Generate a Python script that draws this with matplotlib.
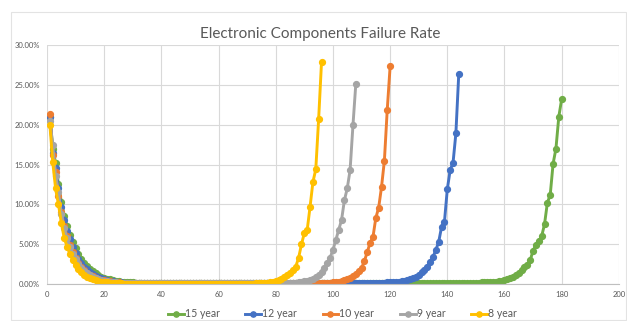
import numpy as np
import matplotlib
matplotlib.use("Agg")
import matplotlib.pyplot as plt
from matplotlib.ticker import FuncFormatter, MultipleLocator
from matplotlib.patches import Rectangle

# ─────────────────────────────────────────────
# Data: monthly failure rate (%) per product lifetime
# ─────────────────────────────────────────────

labels = ["15 year", "12 year", "10 year", "9 year", "8 year"]
colors = ["#70AD47", "#4472C4", "#ED7D31", "#A5A5A5", "#FFC000"]

rate_15y = [
    21.0, 17.0, 15.2, 12.5, 10.3, 8.6, 7.3, 6.2, 5.3, 4.5,
    3.8, 3.2, 2.7, 2.3, 1.9, 1.6, 1.35, 1.1, 0.95, 0.8,
    0.68, 0.58, 0.5, 0.43, 0.37, 0.32, 0.28, 0.25, 0.22, 0.2,
    0.19, 0.19, 0.18, 0.18, 0.18, 0.18, 0.18, 0.18, 0.18, 0.18,
    0.18, 0.18, 0.18, 0.18, 0.18, 0.18, 0.18, 0.18, 0.18, 0.18,
    0.18, 0.18, 0.18, 0.18, 0.18, 0.18, 0.18, 0.18, 0.18, 0.18,
    0.18, 0.18, 0.18, 0.18, 0.18, 0.18, 0.18, 0.18, 0.18, 0.18,
    0.18, 0.18, 0.18, 0.18, 0.18, 0.18, 0.18, 0.18, 0.18, 0.18,
    0.18, 0.18, 0.18, 0.18, 0.18, 0.18, 0.18, 0.18, 0.18, 0.18,
    0.18, 0.18, 0.18, 0.18, 0.18, 0.18, 0.18, 0.18, 0.18, 0.18,
    0.18, 0.18, 0.18, 0.18, 0.18, 0.18, 0.18, 0.18, 0.18, 0.18,
    0.18, 0.18, 0.18, 0.18, 0.18, 0.18, 0.18, 0.18, 0.18, 0.18,
    0.18, 0.18, 0.18, 0.18, 0.18, 0.18, 0.18, 0.18, 0.18, 0.18,
    0.18, 0.18, 0.18, 0.18, 0.18, 0.18, 0.18, 0.18, 0.18, 0.18,
    0.18, 0.18, 0.18, 0.18, 0.18, 0.18, 0.18, 0.18, 0.18, 0.18,
    0.19, 0.2, 0.21, 0.23, 0.25, 0.27, 0.3, 0.35, 0.42, 0.5,
    0.6, 0.75, 0.9, 1.1, 1.4, 1.75, 2.2, 2.4, 3.0, 4.2,
    4.9, 5.4, 6.0, 7.5, 10.2, 11.2, 15.1, 17.0, 21.0, 23.2,
]

rate_12y = [
    21.0, 16.5, 14.5, 12.0, 9.7, 8.0, 6.7, 5.6, 4.7, 3.9,
    3.2, 2.7, 2.2, 1.85, 1.5, 1.25, 1.05, 0.87, 0.72, 0.6,
    0.5, 0.42, 0.36, 0.3, 0.26, 0.22, 0.19, 0.17, 0.15, 0.14,
    0.13, 0.13, 0.13, 0.13, 0.13, 0.13, 0.13, 0.13, 0.13, 0.13,
    0.13, 0.13, 0.13, 0.13, 0.13, 0.13, 0.13, 0.13, 0.13, 0.13,
    0.13, 0.13, 0.13, 0.13, 0.13, 0.13, 0.13, 0.13, 0.13, 0.13,
    0.13, 0.13, 0.13, 0.13, 0.13, 0.13, 0.13, 0.13, 0.13, 0.13,
    0.13, 0.13, 0.13, 0.13, 0.13, 0.13, 0.13, 0.13, 0.13, 0.13,
    0.13, 0.13, 0.13, 0.13, 0.13, 0.13, 0.13, 0.13, 0.13, 0.13,
    0.13, 0.13, 0.13, 0.13, 0.13, 0.13, 0.13, 0.13, 0.13, 0.13,
    0.13, 0.13, 0.13, 0.13, 0.13, 0.13, 0.13, 0.13, 0.13, 0.13,
    0.13, 0.13, 0.14, 0.14, 0.15, 0.16, 0.17, 0.18, 0.2, 0.22,
    0.25, 0.28, 0.32, 0.37, 0.43, 0.5, 0.6, 0.75, 0.95, 1.2,
    1.5, 1.8, 2.2, 2.8, 3.4, 4.3, 5.3, 7.2, 7.8, 11.9,
    14.3, 15.2, 18.9, 26.3,
]

rate_10y = [
    21.3, 16.2, 14.0, 11.0, 9.0, 7.3, 6.0, 4.9, 4.0, 3.3,
    2.7, 2.2, 1.8, 1.45, 1.2, 1.0, 0.82, 0.68, 0.56, 0.47,
    0.39, 0.33, 0.28, 0.24, 0.2, 0.17, 0.15, 0.13, 0.12, 0.11,
    0.1, 0.1, 0.1, 0.1, 0.1, 0.1, 0.1, 0.1, 0.1, 0.1,
    0.1, 0.1, 0.1, 0.1, 0.1, 0.1, 0.1, 0.1, 0.1, 0.1,
    0.1, 0.1, 0.1, 0.1, 0.1, 0.1, 0.1, 0.1, 0.1, 0.1,
    0.1, 0.1, 0.1, 0.1, 0.1, 0.1, 0.1, 0.1, 0.1, 0.1,
    0.1, 0.1, 0.1, 0.1, 0.1, 0.1, 0.1, 0.1, 0.1, 0.1,
    0.1, 0.1, 0.1, 0.1, 0.1, 0.1, 0.1, 0.1, 0.1, 0.1,
    0.1, 0.1, 0.11, 0.12, 0.13, 0.14, 0.15, 0.17, 0.19, 0.21,
    0.26, 0.32, 0.4, 0.5, 0.62, 0.8, 1.0, 1.25, 1.6, 2.0,
    2.9, 4.0, 5.2, 5.9, 8.3, 9.6, 12.2, 15.5, 21.9, 27.3,
]

rate_9y = [
    20.5, 17.5, 13.5, 11.5, 8.8, 7.0, 5.8, 4.7, 3.8, 3.1,
    2.5, 2.0, 1.65, 1.35, 1.1, 0.9, 0.74, 0.6, 0.5, 0.42,
    0.35, 0.29, 0.25, 0.21, 0.18, 0.15, 0.13, 0.12, 0.11, 0.1,
    0.1, 0.1, 0.1, 0.1, 0.1, 0.1, 0.1, 0.1, 0.1, 0.1,
    0.1, 0.1, 0.1, 0.1, 0.1, 0.1, 0.1, 0.1, 0.1, 0.1,
    0.1, 0.1, 0.1, 0.1, 0.1, 0.1, 0.1, 0.1, 0.1, 0.1,
    0.1, 0.1, 0.1, 0.1, 0.1, 0.1, 0.1, 0.1, 0.1, 0.1,
    0.1, 0.1, 0.1, 0.1, 0.1, 0.1, 0.1, 0.1, 0.1, 0.1,
    0.1, 0.11, 0.12, 0.13, 0.14, 0.16, 0.19, 0.22, 0.27, 0.34,
    0.43, 0.55, 0.7, 0.9, 1.15, 1.5, 2.0, 2.6, 3.3, 4.3,
    5.5, 6.8, 8.0, 10.5, 12.0, 14.3, 19.9, 25.1,
]

rate_8y = [
    20.0, 15.3, 12.0, 10.0, 7.7, 5.8, 4.7, 3.8, 3.0, 2.4,
    1.9, 1.5, 1.2, 0.95, 0.75, 0.6, 0.48, 0.38, 0.3, 0.25,
    0.2, 0.16, 0.13, 0.11, 0.09, 0.08, 0.07, 0.06, 0.06, 0.05,
    0.05, 0.05, 0.05, 0.05, 0.05, 0.05, 0.05, 0.05, 0.05, 0.05,
    0.05, 0.05, 0.05, 0.05, 0.05, 0.05, 0.05, 0.05, 0.05, 0.05,
    0.05, 0.05, 0.05, 0.05, 0.05, 0.05, 0.05, 0.05, 0.05, 0.05,
    0.05, 0.05, 0.05, 0.05, 0.05, 0.05, 0.05, 0.05, 0.05, 0.05,
    0.06, 0.07, 0.08, 0.1, 0.12, 0.15, 0.19, 0.24, 0.3, 0.4,
    0.5, 0.65, 0.85, 1.1, 1.4, 1.75, 2.2, 3.3, 5.0, 6.4,
    6.8, 9.7, 12.8, 14.4, 20.7, 27.8,
]

series = [rate_15y, rate_12y, rate_10y, rate_9y, rate_8y]

# ─────────────────────────────────────────────
# Plot
# ─────────────────────────────────────────────

txt = "#595959"
plt.rcParams["font.family"] = ["Lato", "DejaVu Sans"]

fig = plt.figure(figsize=(6.27, 3.21), dpi=100)
ax = fig.add_axes([0.075, 0.115, 0.912, 0.745])

for vals, lab, col in zip(series, labels, colors):
    months = np.arange(1, len(vals) + 1)
    ax.plot(months, np.array(vals) / 100, color=col, lw=2.1,
            marker="o", ms=4.2, mec=col, mfc=col, label=lab)

ax.set_xlim(0, 200)
ax.set_ylim(0, 0.30)
ax.xaxis.set_major_locator(MultipleLocator(20))
ax.yaxis.set_major_locator(MultipleLocator(0.05))
ax.yaxis.set_major_formatter(FuncFormatter(lambda v, p: f"{v * 100:.2f}%"))

ax.grid(True, color="#D9D9D9", lw=0.8)
ax.set_axisbelow(True)
for s in ["top", "right", "left"]:
    ax.spines[s].set_visible(False)
ax.spines["bottom"].set_color("#BFBFBF")
ax.tick_params(length=0, labelsize=5.5, labelcolor=txt, pad=5)

fig.text(0.51, 0.895, "Electronic Components Failure Rate",
         ha="center", va="center", fontsize=11, color=txt)

ax.legend(loc="center", bbox_to_anchor=(0.546, 0.022),
          bbox_transform=fig.transFigure, ncol=5, frameon=False,
          fontsize=7.6, labelcolor=txt, handlelength=1.5,
          handletextpad=0.1, columnspacing=2.4, markerscale=0.9,
          borderpad=0.0)

# faint chart-area border
fig.patches.append(Rectangle((11 / 627, 0.003), 615 / 627, 1 - 12 / 321 - 0.003,
                             transform=fig.transFigure, fill=False,
                             ec="#E3E3E3", lw=0.8))

fig.savefig("out.png", dpi=100, facecolor="white")
